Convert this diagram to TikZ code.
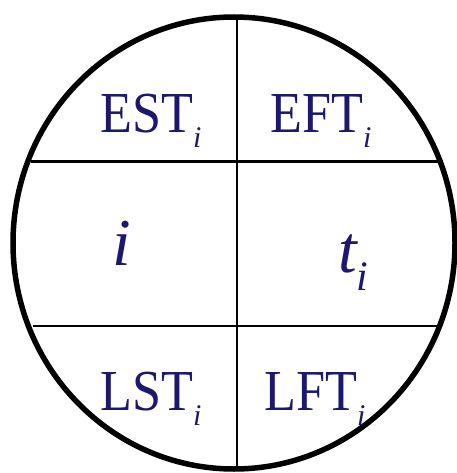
\documentclass[tikz,border=0pt]{standalone}
\usepackage{fontspec}
\setmainfont{Liberation Serif}[ItalicFont={Liberation Serif Italic}]
\usepackage{tikz}

\definecolor{labelblue}{RGB}{28,24,110}
% field label with a lowered italic index
\newcommand{\fld}[1]{\scalebox{0.9}[1]{\fontsize{58}{58}\selectfont #1}%
  \raisebox{-15pt}{\fontsize{30}{30}\selectfont\itshape i}}

\begin{document}
\begin{tikzpicture}[x=1pt,y=-1pt,
  rim/.style={black,line width=5.5pt},
  split/.style={black,line width=2.4pt},
  every node/.style={text=labelblue,inner sep=0pt,anchor=base west}]
  \useasboundingbox (0,0) rectangle (456,473);

  % node outline, cut into six fields
  \draw[rim] (234,243) ellipse[x radius=221,y radius=226];
  \draw[split] (237,17) -- (237,469);
  \draw[split] (31,161.5) -- (443,161.5);
  \draw[split] (33,326) -- (441,326);

  \node (est) at (100,133) {\fld{EST}};
  \node (eft) at (270,133) {\fld{EFT}};
  \node (lst) at (100,410) {\fld{LST}};
  \node (lft) at (264,410) {\fld{LFT}};

  \node (num) at (112,265) {\fontsize{67}{67}\selectfont\itshape i};
  \node (dur) at (338,272) {\fontsize{67}{67}\selectfont\itshape t%
    \raisebox{-18pt}{\fontsize{42}{42}\selectfont i}};
\end{tikzpicture}
\end{document}
